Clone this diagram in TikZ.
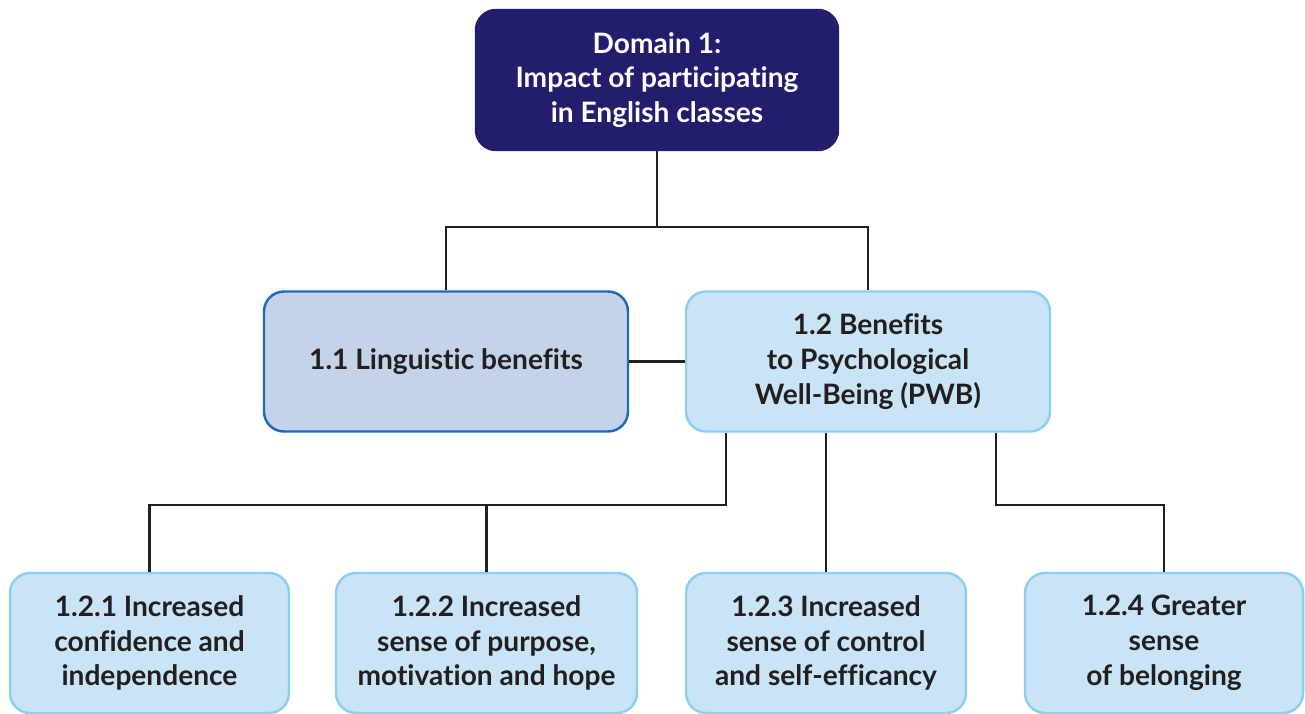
\documentclass[tikz,border=0pt]{standalone}
\usepackage{fontspec}
\setmainfont{Lato}[Ligatures=NoCommon]
\definecolor{navy}{RGB}{35,29,110}
\definecolor{linfill}{RGB}{197,211,234}
\definecolor{linedge}{RGB}{27,109,182}
\definecolor{pwbfill}{RGB}{200,228,246}
\definecolor{pwbedge}{RGB}{141,205,240}
\definecolor{ink}{RGB}{35,31,32}
\begin{document}
\begin{tikzpicture}[
  box/.style={rounded corners=0.4cm, line width=1.4pt, align=center,
    font=\fontsize{16}{19.8}\selectfont\bfseries, minimum height=2.8cm,
    text=ink},
  topbox/.style={box, fill=navy, draw=navy, text=white, minimum width=7.24cm},
  lingbox/.style={box, fill=linfill, draw=linedge, minimum width=7.28cm},
  pwbbox/.style={box, fill=pwbfill, draw=pwbedge},
  link/.style={draw=ink, line width=1.2pt}
]
\useasboundingbox (0,0) rectangle (26.1,-14.26);
\clip (0,0) rectangle (26.1,-14.26);

\node[topbox] (dom) at (13.14,-1.6)
  {Domain 1:\\Impact of participating\\in English classes};
\node[lingbox] (lin) at (8.92,-7.23) {1.1 Linguistic benefits};
\node[pwbbox, minimum width=7.28cm] (pwb) at (17.36,-7.23)
  {1.2 Benefits\\to Psychological\\Well-Being (PWB)};

\node[pwbbox, minimum width=5.58cm] (b1) at (2.99,-12.86)
  {1.2.1 Increased\\confidence and\\independence};
\node[pwbbox, minimum width=6.02cm] (b2) at (9.73,-12.86)
  {1.2.2 Increased\\sense of purpose,\\motivation and hope};
\node[pwbbox, minimum width=5.6cm] (b3) at (16.52,-12.86)
  {1.2.3 Increased\\sense of control\\and self-efficancy};
\node[pwbbox, minimum width=5.56cm] (b4) at (23.28,-12.86)
  {1.2.4 Greater\\sense\\of belonging};

% top level
\draw[link] (dom.south) -- ++(0,-1.52) coordinate (j1);
\draw[link] (j1) -| (lin.north);
\draw[link] (j1) -| (pwb.north);
\draw[link] (lin.east) -- (pwb.west);

% second level
\draw[link] ([xshift=0.82cm]pwb.south west) -- ++(0,-1.44) coordinate (j2)
  -| (b1.north);
\draw[link] (b2.north |- j2) -- (b2.north);
\draw[link] (b3.north |- pwb.south) -- (b3.north);
\draw[link] ([xshift=-1.1cm]pwb.south east) -- ++(0,-1.44) -| (b4.north);
\end{tikzpicture}
\end{document}
